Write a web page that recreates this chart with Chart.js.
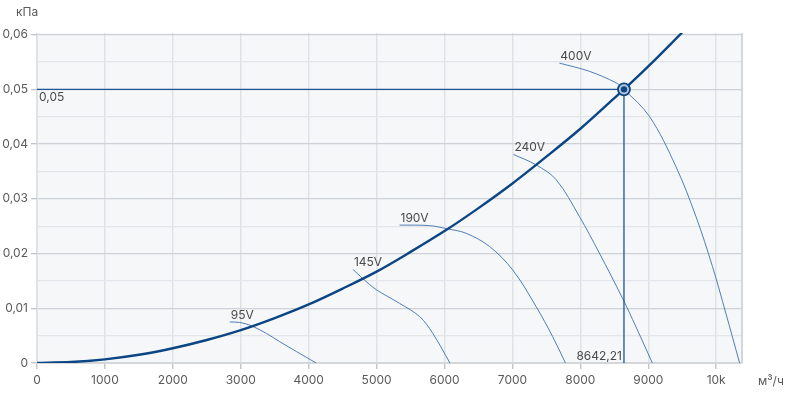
<!DOCTYPE html>
<html>
<head>
<meta charset="utf-8">
<script src="https://cdn.jsdelivr.net/npm/chart.js@4.4.0/dist/chart.umd.min.js"></script>
<style>
  html,body{margin:0;padding:0;background:#fff;}
  #wrap{width:788px;height:397px;position:relative;}
</style>
</head>
<body>
<div id="wrap"><canvas id="c" width="788" height="397"></canvas></div>
<script>
// ---- data ----
const xTicks = [0,1000,2000,3000,4000,5000,6000,7000,8000,9000,10000];
const xTickLabels = ["0","1000","2000","3000","4000","5000","6000","7000","8000","9000","10k"];
const yTicks = [0,0.005,0.01,0.015,0.02,0.025,0.03,0.035,0.04,0.045,0.05,0.055,0.06];
const yTickLabels = ["0","","0,01","","0,02","","0,03","","0,04","","0,05","","0,06"];

const systemX = [0,500,1000,1500,2000,2500,3000,3500,4000,4500,5000,5500,6000,6500,7000,7500,8000,8500,8642.21,9000,9500];
const systemY = [0,0.00017,0.00067,0.0015,0.0027,0.0042,0.0060,0.0082,0.0107,0.0136,0.0167,0.0203,0.0241,0.0283,0.0328,0.0377,0.0428,0.0484,0.05,0.0542,0.0604];

const fan95X  = [2838,2985,3157,3378,3574,3819,4110];
const fan95Y  = [0.0075,0.0074,0.0068,0.0054,0.0039,0.0021,0];
const fan145X = [4651,4799,4996,5338,5632,5828,6080];
const fan145Y = [0.0171,0.0154,0.0134,0.0109,0.0085,0.0054,0];
const fan190X = [5338,5779,6049,6319,6662,7004,7349,7593,7780];
const fan190Y = [0.0252,0.0251,0.0245,0.0237,0.0213,0.0170,0.0103,0.0048,0];
const fan240X = [7015,7349,7643,7985,8279,8622,8819,9060];
const fan240Y = [0.0381,0.0362,0.0335,0.0268,0.0201,0.0118,0.0066,0];
const fan400X = [7691,8132,8525,8642.21,9015,9407,9701,9946,10142,10345];
const fan400Y = [0.0548,0.0533,0.0512,0.05,0.0451,0.0359,0.0268,0.0176,0.0091,0];
const fanLabels = ["95V","145V","190V","240V","400V"];

const opX = 8642.21;
const opY = 0.05;
const opXLabel = "8642,21";
const opYLabel = "0,05";
const yUnit = "кПа";
const xUnit = "м³/ч";

// ---- build ----
const pts = (xs, ys) => xs.map((x,i)=>({x:x, y:ys[i]}));
const fanXs = [fan95X,fan145X,fan190X,fan240X,fan400X];
const fanYs = [fan95Y,fan145Y,fan190Y,fan240Y,fan400Y];

const SYS = '#0b4584';
const FAN = '#3d70ad';
const REF = '#1d5596';

const datasets = [];
datasets.push({data:[{x:opX,y:opY}], showLine:false, pointRadius:3.2, pointBackgroundColor:SYS, pointBorderColor:SYS, pointBorderWidth:0, order:0});
datasets.push({data:[{x:opX,y:opY}], showLine:false, pointRadius:6, pointBackgroundColor:'#b8c8dc', pointBorderColor:SYS, pointBorderWidth:1.8, order:1});
datasets.push({data:pts(systemX,systemY), borderColor:SYS, borderWidth:2.4, pointRadius:0, cubicInterpolationMode:'monotone', order:2});
datasets.push({data:[{x:0,y:opY},{x:opX,y:opY}], borderColor:REF, borderWidth:1.3, pointRadius:0, order:3});
datasets.push({data:[{x:opX,y:opY},{x:opX,y:0}], borderColor:REF, borderWidth:1.3, pointRadius:0, order:3});
fanXs.forEach((xs,i)=>{
  datasets.push({data:pts(xs,fanYs[i]), borderColor:FAN, borderWidth:0.9, pointRadius:0, tension:0.35, order:4});
});

const FONT = 'Inter, "Noto Sans", sans-serif';

const bgPlugin = {
  id:'bg',
  beforeDraw(chart){
    const {ctx, chartArea:a} = chart;
    ctx.save();
    ctx.fillStyle = '#f5f7f9';
    ctx.fillRect(a.left, a.top, a.right-a.left, a.bottom-a.top);
    ctx.restore();
  },
  afterDatasetsDraw(chart){
    const {ctx, chartArea:a, scales} = chart;
    const xs = scales.x, ys = scales.y;
    ctx.save();
    ctx.strokeStyle = '#d3d7dc';
    ctx.lineWidth = 2;
    ctx.beginPath();
    ctx.moveTo(a.right, a.top); ctx.lineTo(a.right, a.bottom);
    ctx.stroke();
    ctx.font = '12px ' + FONT;
    ctx.fillStyle = '#4a4a4a';
    ctx.textBaseline = 'alphabetic';
    fanXs.forEach((xsArr,i)=>{
      const px = xs.getPixelForValue(xsArr[0]);
      const py = ys.getPixelForValue(fanYs[i][0]);
      ctx.textAlign = 'left';
      ctx.fillText(fanLabels[i], px+1, py-3);
    });
    ctx.textAlign = 'left';
    ctx.fillText(opYLabel, a.left+2, ys.getPixelForValue(opY)+12);
    ctx.textAlign = 'right';
    ctx.fillText(opXLabel, xs.getPixelForValue(opX)-2, ys.getPixelForValue(0)-3);
    ctx.fillStyle = '#5a5a5a';
    ctx.textAlign = 'left';
    ctx.textBaseline = 'middle';
    ctx.fillText(yUnit, 16, 12);
    ctx.fillText(xUnit, 758, 381);
    ctx.restore();
  }
};

new Chart(document.getElementById('c'), {
  type:'line',
  data:{datasets},
  options:{
    responsive:false,
    animation:false,
    events:[],
    layout:{padding:{top:33,right:46,left:0,bottom:0}},
    plugins:{legend:{display:false}, tooltip:{enabled:false}},
    scales:{
      x:{
        type:'linear', min:0, max:10380,
        afterBuildTicks(s){ s.ticks = xTicks.map(v=>({value:v})); },
        afterFit(s){ s.height = 34; },
        ticks:{
          callback:(v)=>{ const i = xTicks.indexOf(v); return i>=0 ? xTickLabels[i] : ''; },
          color:'#5a5a5a', font:{family:FONT, size:12}, padding:4, maxRotation:0, autoSkip:false
        },
        grid:{color:'#e0e3e6', lineWidth:1.5, tickColor:'#c4c9cf', tickLength:6, drawOnChartArea:true},
        border:{color:'#d3d7dc', width:2}
      },
      y:{
        type:'linear', min:0, max:0.0603,
        afterBuildTicks(s){ s.ticks = yTicks.map(v=>({value:v})); },
        afterFit(s){ s.width = 37; },
        ticks:{
          callback:(v)=>{ const i = yTicks.findIndex(t=>Math.abs(t-v)<1e-9); return i>=0 ? yTickLabels[i] : ''; },
          color:'#5a5a5a', font:{family:FONT, size:12}, padding:3, autoSkip:false
        },
        grid:{
          color:(c)=>{ const v=c.tick?c.tick.value:0; return Math.round(v*1000)%10===0 ? '#cdd2d8' : '#e2e5e9'; },
          tickColor:(c)=>{ const v=c.tick?c.tick.value:0; return Math.round(v*1000)%10===0 ? '#bfc4ca' : 'rgba(0,0,0,0)'; },
          lineWidth:1.3, tickLength:6
        },
        border:{color:'#e0e3e6', width:1}
      }
    }
  },
  plugins:[bgPlugin]
});
</script>
</body>
</html>
